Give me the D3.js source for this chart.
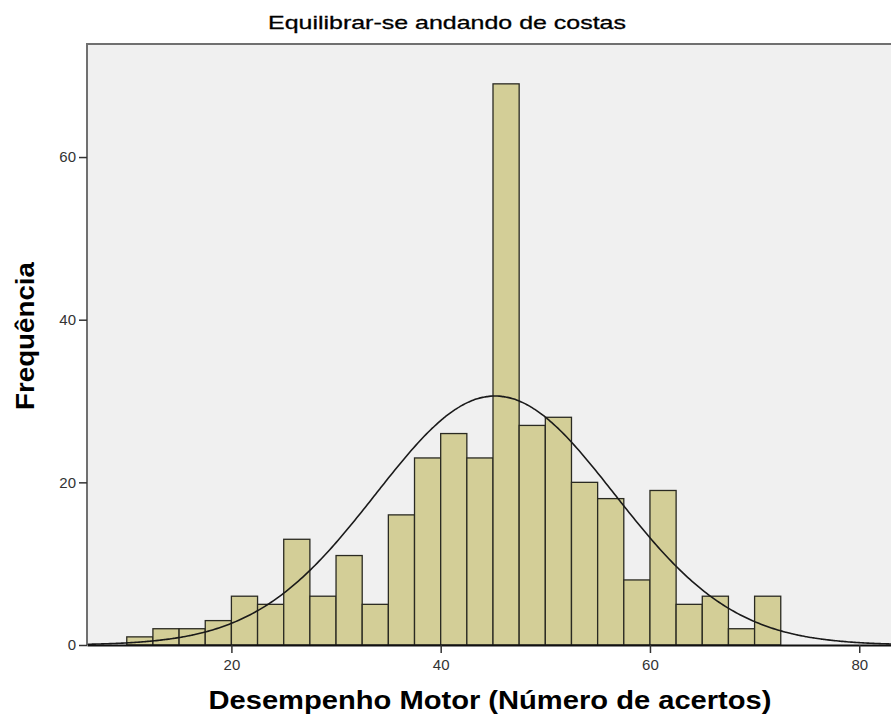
<!DOCTYPE html>
<html>
<head>
<meta charset="utf-8">
<script src="https://cdn.jsdelivr.net/npm/d3@7"></script>
<style>
  body { margin: 0; background: #ffffff; }
  svg { display: block; font-family: Arial, "Liberation Sans", sans-serif; }
</style>
</head>
<body>
<svg></svg>
<script>
// histogram bins (lower edge of each bin, width 2.5) and frequencies
const binStarts = [10, 12.5, 15, 17.5, 20, 22.5, 25, 27.5, 30, 32.5, 35, 37.5, 40,
                   42.5, 45, 47.5, 50, 52.5, 55, 57.5, 60, 62.5, 65, 67.5, 70];
const binWidth = 2.5;
const counts = [1, 2, 2, 3, 6, 5, 13, 6, 11, 5, 16, 23, 26,
                23, 69, 27, 28, 20, 18, 8, 19, 5, 6, 2, 6];

// tick labels
const xTicks = [20, 40, 60, 80];
const yTicks = [0, 20, 40, 60];

// normal curve fitted by spss
const curveMean = 45.2;
const curveSd = 11.4;
const totalN = 350;

const title = "Equilibrar-se andando de costas";
const xLabel = "Desempenho Motor (Número de acertos)";
const yLabel = "Frequência";

// size of the svg container
const width = 891;
const height = 721;

const svg = d3.select('svg')
    .attr("width", width)
    .attr("height", height);

// plot area
const plotLeft = 87;
const plotRight = 899;
const plotTop = 44;
const plotBottom = 645;

const xScale = d3.scaleLinear()
    .domain([6.2, 83.8])
    .range([plotLeft, plotRight]);

const yScale = d3.scaleLinear()
    .domain([0, 73.9])
    .range([plotBottom, plotTop]);

// grey background of the plot
svg.append("rect")
    .attr("x", plotLeft)
    .attr("y", plotTop)
    .attr("width", plotRight - plotLeft)
    .attr("height", plotBottom - plotTop)
    .attr("fill", "#f0f0f0");

// bars
svg.selectAll(".bar")
    .data(counts)
    .enter()
    .append("rect")
    .attr("class", "bar")
    .attr("x", (d, i) => xScale(binStarts[i]))
    .attr("width", (d, i) => xScale(binStarts[i] + binWidth) - xScale(binStarts[i]))
    .attr("y", (d) => yScale(d))
    .attr("height", (d) => yScale(0) - yScale(d))
    .attr("fill", "#d3ce97")
    .attr("stroke", "#2a2a22")
    .attr("stroke-width", 1.3);

// normal curve
const curvePoints = d3.range(xScale.domain()[0], xScale.domain()[1] + 0.2, 0.2).map((x) => {
    const z = (x - curveMean) / curveSd;
    const y = totalN * binWidth / (curveSd * Math.sqrt(2 * Math.PI)) * Math.exp(-0.5 * z * z);
    return [x, y];
});

const line = d3.line()
    .x((d) => xScale(d[0]))
    .y((d) => yScale(d[1]))
    .curve(d3.curveBasis);

svg.append("path")
    .datum(curvePoints)
    .attr("d", line)
    .attr("fill", "none")
    .attr("stroke", "#1a1a1a")
    .attr("stroke-width", 1.6);

// frame: top and left border in grey
svg.append("path")
    .attr("d", `M${plotLeft},${plotBottom} V${plotTop} H${plotRight}`)
    .attr("fill", "none")
    .attr("stroke", "#707070")
    .attr("stroke-width", 2);

// axes
const xAxis = d3.axisBottom(xScale).tickValues(xTicks).tickSize(8).tickSizeOuter(0);
const yAxis = d3.axisLeft(yScale).tickValues(yTicks).tickSize(8).tickSizeOuter(0);

const gx = svg.append('g')
    .attr("transform", `translate(0,${plotBottom})`)
    .call(xAxis);

const gy = svg.append('g')
    .attr("transform", `translate(${plotLeft},0)`)
    .call(yAxis);

gx.select(".domain").attr("stroke", "#111").attr("stroke-width", 2);
gy.select(".domain").remove();
svg.selectAll(".tick line").attr("stroke", "#333").attr("stroke-width", 1.5);
svg.selectAll(".tick text")
    .attr("fill", "#333")
    .style("font-size", "15px")
    .style("font-family", "Arial, 'Liberation Sans', sans-serif");
gx.selectAll(".tick text").attr("dy", "0.95em");
gy.selectAll(".tick text").attr("x", -11);

// title and axis labels
svg.append("text")
    .attr("x", 447)
    .attr("y", 29)
    .attr("text-anchor", "middle")
    .attr("textLength", 358)
    .attr("lengthAdjust", "spacingAndGlyphs")
    .style("font-size", "19px")
    .attr("fill", "#000")
    .attr("stroke", "#000")
    .attr("stroke-width", 0.3)
    .text(title);

svg.append("text")
    .attr("x", 490)
    .attr("y", 709)
    .attr("text-anchor", "middle")
    .attr("textLength", 563)
    .attr("lengthAdjust", "spacingAndGlyphs")
    .style("font-size", "25px")
    .style("font-weight", "bold")
    .attr("fill", "#000")
    .text(xLabel);

svg.append("text")
    .attr("transform", "translate(34,336) rotate(-90)")
    .attr("text-anchor", "middle")
    .attr("textLength", 148)
    .attr("lengthAdjust", "spacingAndGlyphs")
    .style("font-size", "25px")
    .style("font-weight", "bold")
    .attr("fill", "#000")
    .text(yLabel);
</script>
</body>
</html>
